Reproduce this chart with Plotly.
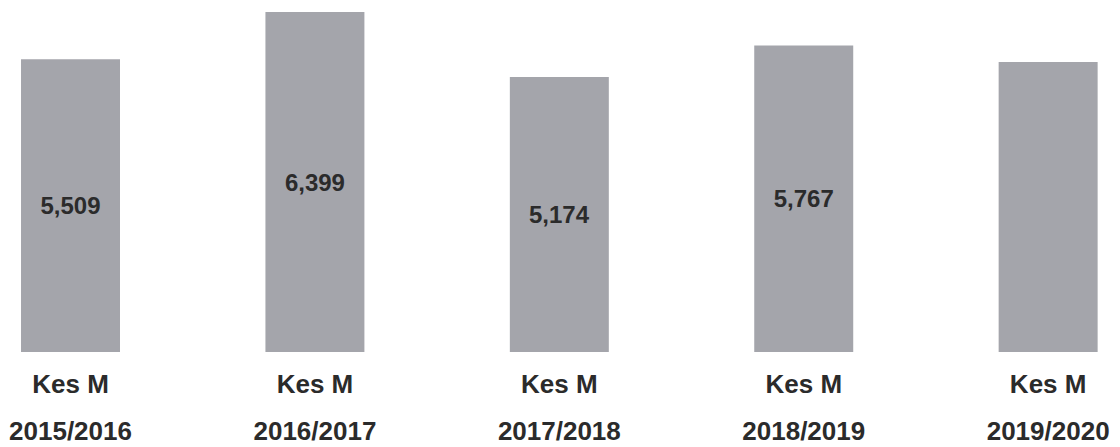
import plotly.graph_objects as go

# data
periods = ["2015/2016", "2016/2017", "2017/2018", "2018/2019", "2019/2020"]
kes_m = [5509, 6399, 5174, 5767, 5460]
bar_labels = ["5,509", "6,399", "5,174", "5,767", ""]
series_name = "Kes M"

FONT = "Liberation Sans, Arial, sans-serif"

fig = go.Figure()
fig.add_trace(go.Bar(
    x=periods, y=kes_m,
    name=series_name,
    width=0.405,
    marker=dict(color="#a4a5ab", line=dict(width=0)),
    text=bar_labels,
    textposition="inside",
    insidetextanchor="middle",
    textfont=dict(family=FONT, size=24, color="#2b2b2b", weight="bold"),
    showlegend=False,
))

rng = [-0.2885, 4.294]

fig.update_layout(
    width=1120, height=447,
    margin=dict(l=0, r=0, t=0, b=0),
    plot_bgcolor="white", paper_bgcolor="white",
    font=dict(family=FONT),
    yaxis=dict(range=[0, 6625], domain=[95 / 447, 1], visible=False),
    xaxis=dict(
        type="category", range=rng,
        tickvals=periods, ticktext=[series_name] * len(periods),
        tickfont=dict(family=FONT, size=26, color="#2b2b2b", weight="bold"),
        showline=False, showgrid=False, ticks="", ticklabelstandoff=14,
    ),
    xaxis2=dict(
        overlaying="x", anchor="y", side="bottom", type="linear", range=rng,
        tickmode="array", tickvals=list(range(len(periods))), ticktext=periods,
        tickfont=dict(family=FONT, size=26, color="#2b2b2b", weight="bold"),
        showline=False, showgrid=False, zeroline=False, ticks="", ticklabelstandoff=61,
    ),
)
fig.add_trace(go.Scatter(x=[], y=[], xaxis="x2", showlegend=False, hoverinfo="skip"))

# page body has an 8px default margin; drop it so the figure fills the window
fig.write_html("out.html", config={"displayModeBar": False},
               post_script="document.body.style.margin='0';")
